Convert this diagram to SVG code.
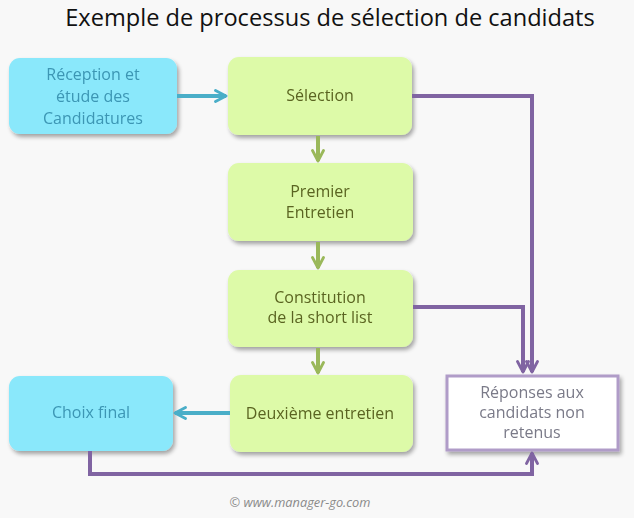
<svg xmlns="http://www.w3.org/2000/svg" width="634" height="518" viewBox="0 0 634 518">
<defs>
<filter id="sh" x="-10%" y="-10%" width="125%" height="130%">
<feGaussianBlur in="SourceAlpha" stdDeviation="2"/>
<feOffset dx="2" dy="3" result="b"/>
<feComponentTransfer><feFuncA type="linear" slope="0.35"/></feComponentTransfer>
<feMerge><feMergeNode/><feMergeNode in="SourceGraphic"/></feMerge>
</filter>
<marker id="ab" viewBox="0 0 14 14" refX="12" refY="7" markerWidth="14" markerHeight="14" markerUnits="userSpaceOnUse" orient="auto">
<path d="M1.5,1.5 L12,7 L1.5,12.5" fill="none" stroke="#4aaec8" stroke-width="2.8" stroke-linecap="round" stroke-linejoin="round"/>
</marker>
<marker id="ag" viewBox="0 0 14 14" refX="12" refY="7" markerWidth="14" markerHeight="14" markerUnits="userSpaceOnUse" orient="auto">
<path d="M1.5,1.5 L12,7 L1.5,12.5" fill="none" stroke="#9ab85a" stroke-width="2.8" stroke-linecap="round" stroke-linejoin="round"/>
</marker>
<marker id="ap" viewBox="0 0 14 14" refX="12" refY="7" markerWidth="14" markerHeight="14" markerUnits="userSpaceOnUse" orient="auto">
<path d="M1.5,1.5 L12,7 L1.5,12.5" fill="none" stroke="#8064a2" stroke-width="2.8" stroke-linecap="round" stroke-linejoin="round"/>
</marker>
</defs>
<style>
text{font-family:"Open Sans","Noto Sans","DejaVu Sans",sans-serif;text-anchor:middle}
.t{font-size:16px}
.blue rect{fill:#8ae8fb}
.blue text{fill:#3c96b4}
.green rect{fill:#ddfaa8}
.green text{fill:#5a6420}
.blue,.green,.white{filter:url(#sh)}
.white rect{fill:#fff;stroke:#b09cc8;stroke-width:3}
.white text{fill:#7a7a88}
.cb{fill:none;stroke:#4aaec8;stroke-width:4;marker-end:url(#ab)}
.cg{fill:none;stroke:#9ab85a;stroke-width:4;marker-end:url(#ag)}
.cp{fill:none;stroke:#8064a2;stroke-width:4;marker-end:url(#ap)}
</style>
<rect width="634" height="518" fill="#f8f8f8"/>
<text x="330" y="26" style="font-size:23.6px;fill:#111">Exemple de processus de sélection de candidats</text>
<g id="reception" class="blue"><rect x="9" y="58" width="168" height="76" rx="11"/>
<text class="t" x="93" y="80">Réception et</text><text class="t" x="93" y="102">étude des</text><text class="t" x="93" y="124">Candidatures</text></g>
<g id="selection" class="green"><rect x="228" y="57" width="184" height="78" rx="11"/>
<text class="t" x="320" y="101">Sélection</text></g>
<g id="premier" class="green"><rect x="228" y="163" width="185" height="78" rx="11"/>
<text class="t" x="320" y="197">Premier</text><text class="t" x="320" y="218">Entretien</text></g>
<g id="constitution" class="green"><rect x="228" y="270" width="185" height="77" rx="11"/>
<text class="t" x="320" y="303">Constitution</text><text class="t" x="320" y="323">de la short list</text></g>
<g id="deuxieme" class="green"><rect x="230" y="375" width="183" height="77" rx="11"/>
<text class="t" x="320" y="419">Deuxième entretien</text></g>
<g id="choix" class="blue"><rect x="9" y="376" width="164" height="75" rx="11"/>
<text class="t" x="91" y="418">Choix final</text></g>
<g id="reponses" class="white"><rect x="447" y="376" width="171" height="74"/>
<text class="t" x="532" y="398">Réponses aux</text><text class="t" x="532" y="418">candidats non</text><text class="t" x="532" y="438">retenus</text></g>
<g id="connectors">
<path class="cb" d="M177,96 H226"/>
<path class="cb" d="M230,413 H175"/>
<path class="cg" d="M318,136 V161"/>
<path class="cg" d="M318,242 V268"/>
<path class="cg" d="M318,348 V373"/>
<path class="cp" d="M412,96 H532 V372"/>
<path class="cp" d="M413,307 H523 V372"/>
<path class="cp" d="M90,451 V474 H532 V453"/>
</g>
<text x="300" y="507" style="font-size:12.8px;font-style:italic;fill:#8a8a8a">© www.manager-go.com</text>
</svg>
